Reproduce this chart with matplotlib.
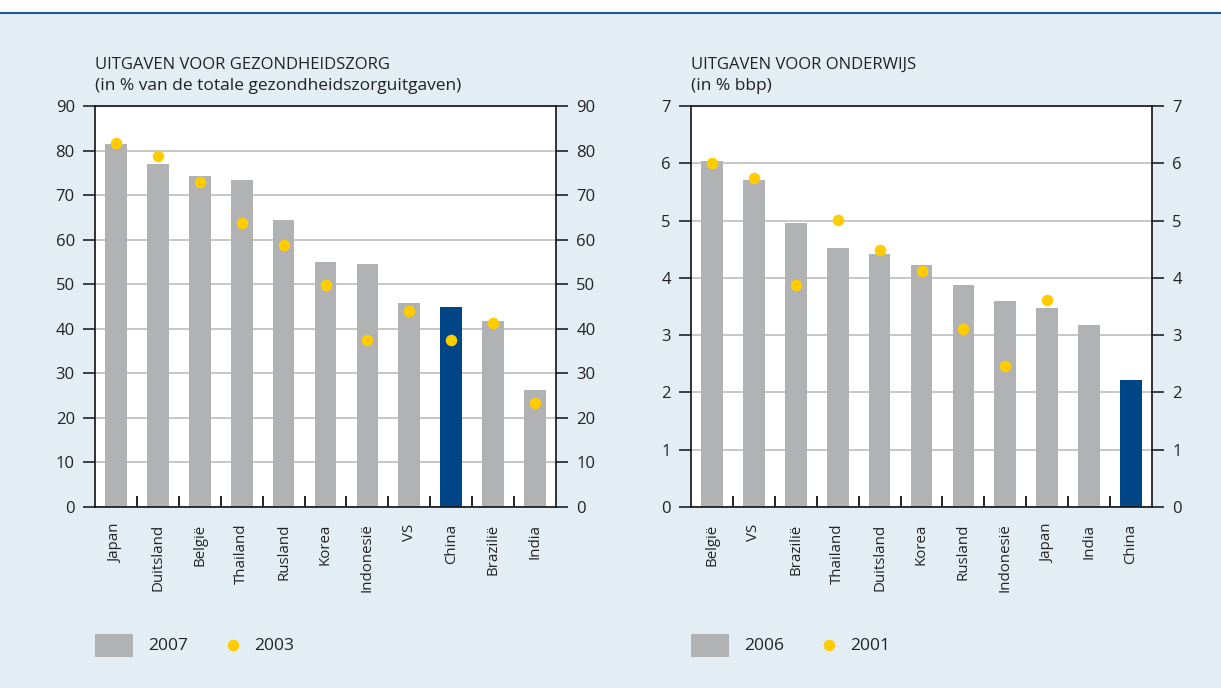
import matplotlib.pyplot as plt
from matplotlib.lines import Line2D
from matplotlib.patches import Rectangle
import numpy as np

plt.rcParams['font.family'] = ['Open Sans', 'DejaVu Sans']

# health spending (% of total health spending)
health_countries = ["Japan", "Duitsland", "België", "Thailand", "Rusland", "Korea",
                    "Indonesië", "VS", "China", "Brazilië", "India"]
health_2007 = [81.5, 77.0, 74.3, 73.4, 64.4, 55.0, 54.5, 45.8, 44.9, 41.7, 26.3]
health_2003 = [81.6, 78.8, 73.0, 63.8, 58.9, 49.9, 37.5, 44.1, 37.5, 41.4, 23.3]

# education spending (% of gdp)
edu_countries = ["België", "VS", "Brazilië", "Thailand", "Duitsland", "Korea",
                 "Rusland", "Indonesië", "Japan", "India", "China"]
edu_2006 = [6.04, 5.71, 4.96, 4.52, 4.42, 4.22, 3.88, 3.60, 3.47, 3.18, 2.22]
edu_2001 = [6.01, 5.75, 3.88, 5.01, 4.49, 4.12, 3.11, 2.47, 3.62, None, None]

GREY = "#B1B2B4"
NAVY = "#004586"
YELLOW = "#FFCC00"
BG = "#E2EDF4"
TXT = "#222222"

W, H = 1221, 688
fig = plt.figure(figsize=(W / 100, H / 100), dpi=100)
fig.patch.set_facecolor(BG)

# white strip with a blue rule on top
fig.add_artist(Rectangle((0, 1 - 12 / H), 1, 12 / H, transform=fig.transFigure,
                         facecolor="white", edgecolor="none", zorder=0))
fig.add_artist(Line2D([0, 1], [1 - 12.5 / H, 1 - 12.5 / H], transform=fig.transFigure,
                      color="#1E5A9C", lw=1.5))


def draw_panel(x0, countries, bars, dots, ymax, step, title, subtitle,
               year_bar, year_dot):
    ax = fig.add_axes([x0 / W, 1 - 507 / H, 461 / W, 401 / H])
    ax.set_facecolor("white")
    x = np.arange(len(countries))
    colors = [NAVY if c == "China" else GREY for c in countries]
    ax.bar(x, bars, width=0.52, color=colors, zorder=2)
    dx = [i for i, d in zip(x, dots) if d is not None]
    dy = [d for d in dots if d is not None]
    ax.plot(dx, dy, "o", color=YELLOW, markersize=8.3, markeredgewidth=0, zorder=3)

    ax.set_xlim(-0.5, len(countries) - 0.5)
    ax.set_ylim(0, ymax)
    ax.set_yticks(np.arange(0, ymax + step / 2, step))
    ax.yaxis.grid(True, color="#BEBEBE", lw=1.2, zorder=1)
    ax.set_axisbelow(True)

    ax.set_xticks(x)
    ax.set_xticklabels(countries, rotation=90, fontsize=10.8, color=TXT)
    ax.set_xticks(np.arange(0.5, len(countries) - 1), minor=True)
    ax.tick_params(axis="x", which="major", length=0, pad=12)
    ax.tick_params(axis="x", which="minor", direction="in", length=8, width=1.3,
                   color="#111111")
    ax.tick_params(axis="y", which="major", direction="out", length=8.5, width=1.1,
                   color="#111111", labelsize=12, labelcolor=TXT,
                   left=True, right=True, labelleft=True, labelright=True, pad=6)
    for s in ax.spines.values():
        s.set_linewidth(1.2)
        s.set_color("#111111")

    fig.text(x0 / W, 1 - 69 / H, title, fontsize=12, color=TXT, va="baseline")
    fig.text(x0 / W, 1 - 90 / H, subtitle, fontsize=12.5, color=TXT, va="baseline")

    # legend row
    fig.add_artist(Rectangle((x0 / W, 1 - 657 / H), 38 / W, 23 / H,
                             transform=fig.transFigure, facecolor=GREY,
                             edgecolor="none"))
    fig.text((x0 + 53) / W, 1 - 646 / H, year_bar, fontsize=12.5, color=TXT,
             va="center")
    fig.add_artist(Line2D([(x0 + 138) / W], [1 - 645 / H], transform=fig.transFigure,
                          marker="o", color=YELLOW, markersize=8.3, markeredgewidth=0))
    fig.text((x0 + 159) / W, 1 - 646 / H, year_dot, fontsize=12.5, color=TXT,
             va="center")


draw_panel(95, health_countries, health_2007, health_2003, 90, 10,
           "UITGAVEN VOOR GEZONDHEIDSZORG",
           "(in % van de totale gezondheidszorguitgaven)", "2007", "2003")
draw_panel(691, edu_countries, edu_2006, edu_2001, 7, 1,
           "UITGAVEN VOOR ONDERWIJS", "(in % bbp)", "2006", "2001")

fig.savefig("out.png", dpi=100, facecolor=fig.get_facecolor())
